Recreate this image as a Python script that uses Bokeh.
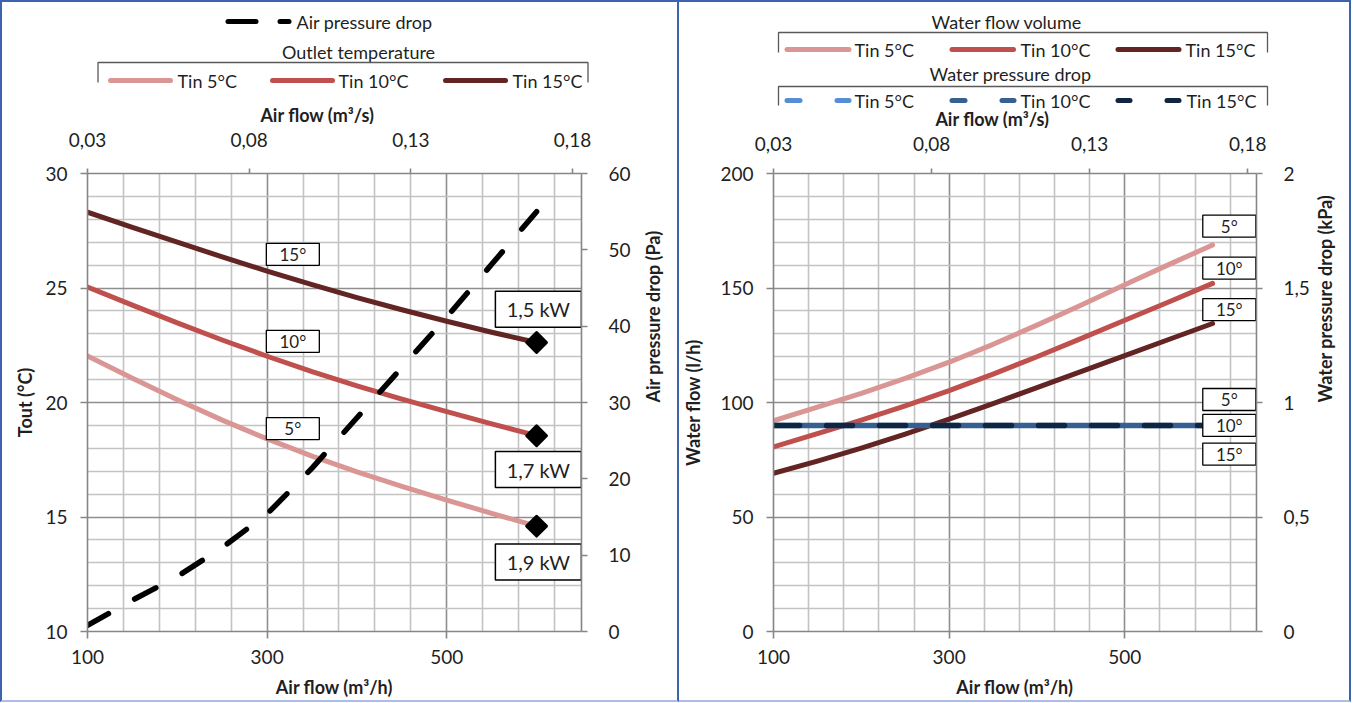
import math
from bokeh.plotting import figure
from bokeh.layouts import row, column
from bokeh.models import Range1d, LinearAxis, FixedTicker, CustomJSTickFormatter
from bokeh.embed import file_html
from bokeh.resources import INLINE
from bokeh.core.properties import value

# ---------------- data ----------------
airflow = [100, 150, 200, 250, 300, 350, 400, 450, 500, 550, 600]          # m3/h
tout_5 = [22.03, 21.06, 20.12, 19.23, 18.41, 17.66, 16.97, 16.34, 15.74, 15.16, 14.60]   # degC
tout_10 = [25.04, 24.25, 23.48, 22.73, 22.02, 21.35, 20.73, 20.15, 19.60, 19.07, 18.55]
tout_15 = [28.31, 27.65, 27.00, 26.36, 25.74, 25.15, 24.58, 24.05, 23.55, 23.07, 22.62]
capacity_labels = ["1,5 kW", "1,7 kW", "1,9 kW"]

air_pd = [0.8, 4.1, 7.2, 11.0, 15.4, 21.4, 28.0, 34.6, 41.2, 48.1, 55.0]   # Pa

water_5 = [92.0, 98.0, 104.0, 110.5, 117.6, 125.4, 133.8, 142.5, 151.4, 160.2, 168.8]   # l/h
water_10 = [80.6, 86.4, 92.3, 98.5, 105.2, 112.4, 120.0, 127.9, 135.9, 143.9, 152.0]
water_15 = [69.1, 74.4, 80.1, 86.2, 92.7, 99.5, 106.5, 113.5, 120.5, 127.5, 134.5]
wpd_5 = [0.9, 0.9, 0.9, 0.9, 0.9, 0.9, 0.9, 0.9, 0.9, 0.9, 0.9]     # kPa
wpd_10 = [0.9, 0.9, 0.9, 0.9, 0.9, 0.9, 0.9, 0.9, 0.9, 0.9, 0.9]
wpd_15 = [0.9, 0.9, 0.9, 0.9, 0.9, 0.9, 0.9, 0.9, 0.9, 0.9, 0.9]

series_names = ["Tin 5°C", "Tin 10°C", "Tin 15°C"]
curve_tags = ["5°", "10°", "15°"]

x_major = [100, 300, 500]
x_minor = [140, 180, 220, 260, 340, 380, 420, 460, 540, 580, 620]
top_ticks = [0.03, 0.08, 0.13, 0.18]

# ---------------- style ----------------
FONT = "Lato"
TXT = "#1f1f1f"
BORDER = "#3d63ae"
BORDER_LIGHT = "#a9bfe3"
AX = "#868686"
GRID_MAJ = "#8e8e8e"
GRID_MIN = "#c3c3c3"
C5, C10, C15 = "#d99694", "#c0504d", "#632523"
B5, B10, B15 = "#558ed5", "#376092", "#10253f"

FRAME_TOP = 173
FRAME_H = 458
BOTTOM = 700


def no_align(p):
    try:
        p.frame_align = False
        return True
    except Exception:
        return False


def style_axis(ax, label_standoff, title_standoff, tick_out=7):
    ax.axis_line_color = AX
    ax.axis_line_width = 1.6
    ax.major_tick_line_color = AX
    ax.major_tick_line_width = 1.6
    ax.major_tick_out = tick_out
    ax.major_tick_in = 0
    ax.minor_tick_line_color = None
    ax.major_label_text_font = FONT
    ax.major_label_text_font_size = "19px"
    ax.major_label_text_color = TXT
    ax.major_label_standoff = label_standoff
    ax.axis_label_text_font = FONT
    ax.axis_label_text_font_size = "18px"
    ax.axis_label_text_font_style = "bold"
    ax.axis_label_text_color = TXT
    ax.axis_label_standoff = title_standoff


def chart(width, leg_h, top_standoff, left, right, y_range, y_major, y_minor, left_title, left_ts,
          right_range, right_ticks, right_title, right_ts, right_fmt):
    top_border = FRAME_TOP - (2 + leg_h)
    height = BOTTOM - (2 + leg_h)
    p = figure(width=width, height=height, x_range=Range1d(100, 650), y_range=y_range,
               output_backend="svg", toolbar_location=None,
               min_border_left=left, min_border_right=right,
               min_border_top=top_border, min_border_bottom=height - top_border - FRAME_H)
    no_align(p)
    p.outline_line_color = None
    p.background_fill_color = "white"
    p.border_fill_color = "white"

    xt = FixedTicker(ticks=x_major, minor_ticks=x_minor)
    yt = FixedTicker(ticks=y_major, minor_ticks=y_minor)
    p.xaxis.ticker = xt
    p.yaxis.ticker = yt
    p.xgrid.ticker = xt
    p.ygrid.ticker = yt
    for g in (p.xgrid, p.ygrid):
        g.grid_line_color = GRID_MAJ
        g.grid_line_width = 1.6
        g.minor_grid_line_color = GRID_MIN
        g.minor_grid_line_width = 1.6

    p.xaxis.axis_label = "Air flow (m³/h)"
    p.yaxis.axis_label = left_title
    style_axis(p.xaxis[0], 11, 9)
    style_axis(p.yaxis[0], 13, left_ts)

    p.extra_x_ranges = {"m3s": Range1d(0.03, 0.03 + 550 / 3600)}
    top = LinearAxis(x_range_name="m3s", ticker=FixedTicker(ticks=top_ticks),
                     formatter=CustomJSTickFormatter(code="return tick.toFixed(2).replace('.', ',');"))
    style_axis(top, top_standoff, 0, tick_out=5)
    p.add_layout(top, "above")

    p.extra_y_ranges = {"r": right_range}
    r = LinearAxis(y_range_name="r", axis_label=right_title, ticker=FixedTicker(ticks=right_ticks))
    if right_fmt:
        r.formatter = CustomJSTickFormatter(
            code="return (Math.round(tick*10)/10).toString().replace('.', ',');")
    style_axis(r, 21, right_ts, tick_out=6)
    try:
        r.axis_label_orientation = math.pi / 2
    except Exception:
        pass
    p.add_layout(r, "right")
    return p


def legend_fig(width, leg_h, x0, x1):
    p = figure(width=width, height=leg_h, x_range=Range1d(x0, x1), y_range=Range1d(2 + leg_h, 2),
               output_backend="svg", toolbar_location=None, min_border=0,
               x_axis_location=None, y_axis_location=None)
    no_align(p)
    p.xgrid.visible = False
    p.ygrid.visible = False
    p.outline_line_color = None
    p.background_fill_color = "white"
    p.border_fill_color = "white"
    return p


def legend_text(p, xs, ys, texts, align="left", size="18px", bold=False):
    p.text(x=xs, y=ys, text=texts, text_font=value(FONT), text_font_size=size,
           text_font_style="bold" if bold else "normal",
           text_color=TXT, text_align=align, text_baseline="middle")


# ================= LEFT PANEL =================
LEG_L = 122
legL = legend_fig(675, LEG_L, 2, 677)
legL.segment(x0=[227.5, 279.5], y0=[21, 21], x1=[255.5, 288.5], y1=[21, 21],
             line_color="black", line_width=5, line_cap="round")
legend_text(legL, [296], [21], ["Air pressure drop"])
legend_text(legL, [358], [51], ["Outlet temperature"], align="center")
legL.line(x=[97.5, 97.5, 587.5, 587.5], y=[82, 62, 62, 82], line_color="#595959", line_width=1.3)
for (xa, xb, xt_, c, name) in [(110, 170, 177, C5, series_names[0]),
                               (272, 332, 338, C10, series_names[1]),
                               (445, 505, 512, C15, series_names[2])]:
    legL.line(x=[xa, xb], y=[80, 80], line_color=c, line_width=5, line_cap="round")
    legend_text(legL, [xt_], [80], [name])
legend_text(legL, [317], [114], ["Air flow (m³/s)"], align="center", bold=True)

pL = chart(675, LEG_L, 22, 85, 86, Range1d(10, 30), [10, 15, 20, 25, 30],
           [11, 12, 13, 14, 16, 17, 18, 19, 21, 22, 23, 24, 26, 27, 28, 29],
           "Tout (°C)", 6, Range1d(0, 60), [0, 10, 20, 30, 40, 50, 60],
           "Air pressure drop (Pa)", 19, False)

for ys, c in [(tout_5, C5), (tout_10, C10), (tout_15, C15)]:
    pL.line(airflow, ys, line_color=c, line_width=5, line_cap="round", line_join="round")
pL.line(airflow, air_pd, y_range_name="r", line_color="black", line_width=5.5,
        line_dash="24 30", line_cap="round")
ends = [tout_15[-1], tout_10[-1], tout_5[-1]]
pL.scatter(x=[airflow[-1]] * 3, y=ends, marker="square", size=14, angle=math.pi / 4,
           fill_color="black", line_color="black", line_width=3, line_join="round")

tag_y = [26.47, 22.67, 18.86]
pL.rect(x=[328.6] * 3, y=tag_y, width=53, height=22, width_units="screen", height_units="screen",
        fill_color="white", line_color="black", line_width=1.3)
pL.text(x=[328.6] * 3, y=tag_y, text=[curve_tags[2], curve_tags[1], curve_tags[0]],
        text_font=value(FONT), text_font_size="17px", text_color=TXT,
        text_align="center", text_baseline="middle")
kw_y = [24.07, 17.07, 13.04]
pL.rect(x=[602] * 3, y=kw_y, width=86, height=36, width_units="screen", height_units="screen",
        fill_color="white", line_color="black", line_width=1.5)
pL.text(x=[602] * 3, y=kw_y, text=capacity_labels, text_font=value(FONT), text_font_size="20px",
        text_color=TXT, text_align="center", text_baseline="middle")

# ================= RIGHT PANEL =================
LEG_R = 126
legR = legend_fig(670, LEG_R, 679, 1349)
legend_text(legR, [1006.5], [21], ["Water flow volume"], align="center")
legR.line(x=[778, 778, 1267, 1267], y=[52, 32, 32, 52], line_color="#595959", line_width=1.3)
for (xa, xb, xt_, c, name) in [(786.5, 848.5, 854, C5, series_names[0]),
                               (951.5, 1013, 1020, C10, series_names[1]),
                               (1117.5, 1178.5, 1185, C15, series_names[2])]:
    legR.line(x=[xa, xb], y=[49, 49], line_color=c, line_width=5, line_cap="round")
    legend_text(legR, [xt_], [49], [name])
legend_text(legR, [1010], [73], ["Water pressure drop"], align="center")
legR.line(x=[778, 778, 1267, 1267], y=[105, 86, 86, 105], line_color="#595959", line_width=1.3)
for (xa, xb, xc, xd, xt_, c, name) in [(786.5, 799.5, 836.5, 848.5, 854, B5, series_names[0]),
                                       (951.5, 964.5, 1001.5, 1013.5, 1020, B10, series_names[1]),
                                       (1117.5, 1129.5, 1166.5, 1178.5, 1186, B15, series_names[2])]:
    legR.segment(x0=[xa, xc], y0=[100, 100], x1=[xb, xd], y1=[100, 100],
                 line_color=c, line_width=5, line_cap="round")
    legend_text(legR, [xt_], [100], [name])
legend_text(legR, [992], [118], ["Air flow (m³/s)"], align="center", bold=True)

pR = chart(670, LEG_R, 18, 90, 89, Range1d(0, 200), [0, 50, 100, 150, 200],
           [10, 20, 30, 40, 60, 70, 80, 90, 110, 120, 130, 140, 160, 170, 180, 190],
           "Water flow (l/h)", 13, Range1d(0, 2), [0, 0.5, 1, 1.5, 2],
           "Water pressure drop (kPa)", 12, True)

for ys, c in [(water_5, C5), (water_10, C10), (water_15, C15)]:
    pR.line(airflow, ys, line_color=c, line_width=5, line_cap="round", line_join="round")
pR.line(airflow, wpd_5, y_range_name="r", line_color=B5, line_width=5.5,
        line_dash="26 27", line_cap="round")
pR.line(airflow, wpd_10, y_range_name="r", line_color=B10, line_width=5.5,
        line_dash="27 26", line_dash_offset=27)
pR.line(airflow, wpd_15, y_range_name="r", line_color=B15, line_width=5.5,
        line_dash="26 27", line_cap="round")

rtag_y = [177.0, 158.7, 140.6, 101.3, 90.0, 77.5]
pR.rect(x=[619] * 6, y=rtag_y, width=53, height=22, width_units="screen", height_units="screen",
        fill_color="white", line_color="black", line_width=1.3)
pR.text(x=[619] * 6, y=rtag_y, text=curve_tags + curve_tags, text_font=value(FONT),
        text_font_size="17px", text_color=TXT, text_align="center", text_baseline="middle")

b = f"2px solid {BORDER}"
bl = f"2px solid {BORDER_LIGHT}"
colL = column(legL, pL, styles={"border-left": b, "border-top": b, "border-right": b,
                                "border-bottom": bl})
colR = column(legR, pR, styles={"border-top": b, "border-right": b, "border-bottom": bl})
layout = row(colL, colR)

open("out.html", "w").write(file_html(layout, INLINE))
